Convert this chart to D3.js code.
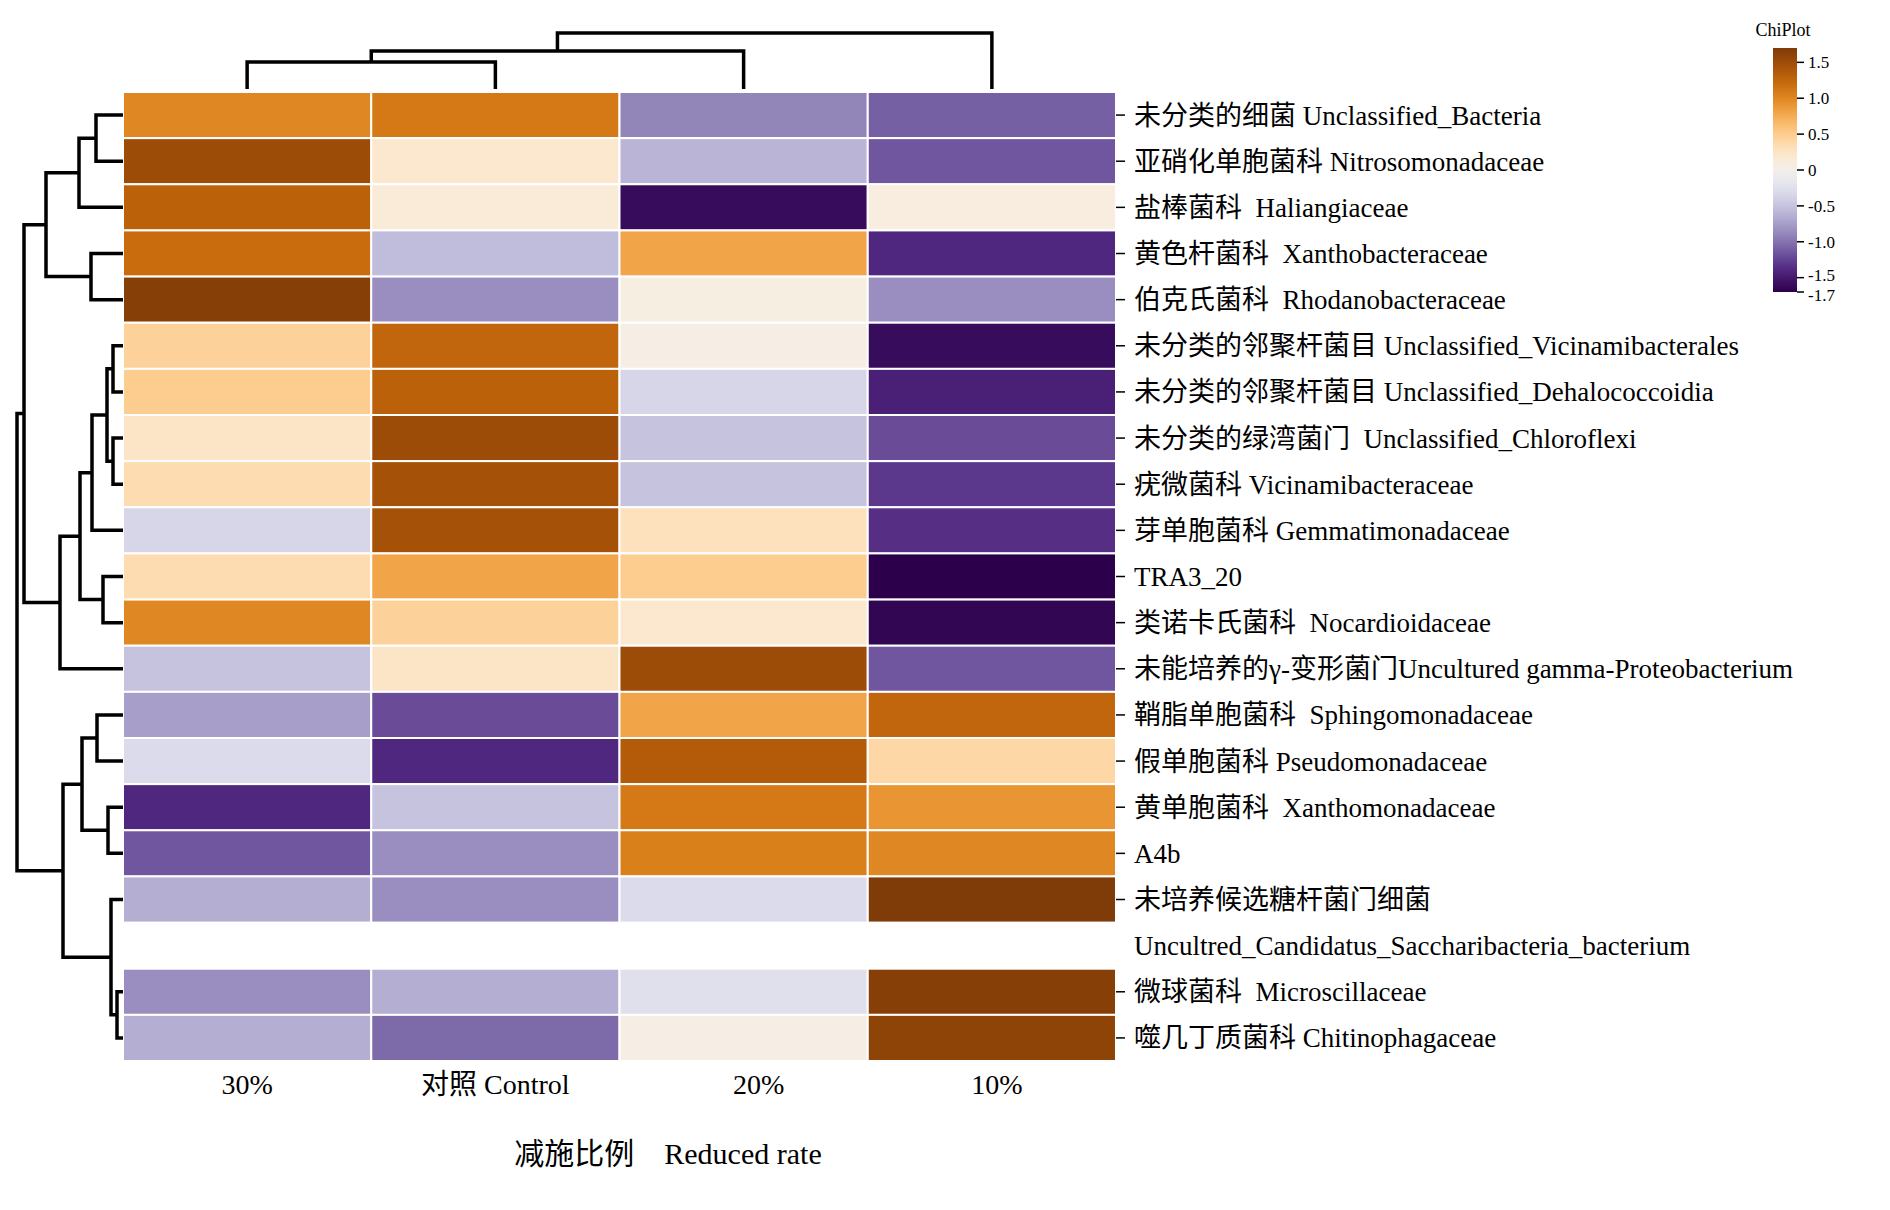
<!DOCTYPE html>
<html><head><meta charset="utf-8">
<script src="https://cdn.jsdelivr.net/npm/d3@7"></script>
<style>body{margin:0;background:#fff}</style></head>
<body><svg id="c" width="1890" height="1210"></svg>
<script>
const columns = ["30%", "对照 Control", "20%", "10%"];
const rows = [
 "未分类的细菌 Unclassified_Bacteria",
 "亚硝化单胞菌科 Nitrosomonadaceae",
 "盐棒菌科  Haliangiaceae",
 "黄色杆菌科  Xanthobacteraceae",
 "伯克氏菌科  Rhodanobacteraceae",
 "未分类的邻聚杆菌目 Unclassified_Vicinamibacterales",
 "未分类的邻聚杆菌目 Unclassified_Dehalococcoidia",
 "未分类的绿湾菌门  Unclassified_Chloroflexi",
 "疣微菌科 Vicinamibacteraceae",
 "芽单胞菌科 Gemmatimonadaceae",
 "TRA3_20",
 "类诺卡氏菌科  Nocardioidaceae",
 "未能培养的γ-变形菌门Uncultured gamma-Proteobacterium",
 "鞘脂单胞菌科  Sphingomonadaceae",
 "假单胞菌科 Pseudomonadaceae",
 "黄单胞菌科  Xanthomonadaceae",
 "A4b",
 "未培养候选糖杆菌门细菌|Uncultred_Candidatus_Saccharibacteria_bacterium",
 "微球菌科  Microscillaceae",
 "噬几丁质菌科 Chitinophagaceae"
];
const rowSlots = [0,1,2,3,4,5,6,7,8,9,10,11,12,13,14,15,16,17,19,20];
const values = [
 [1.0, 1.1, -0.9, -1.1],
 [1.5, 0.2, -0.6, -1.15],
 [1.3, 0.15, -1.6, 0.1],
 [1.2, -0.55, 0.8, -1.4],
 [1.65, -0.85, 0.08, -0.85],
 [0.45, 1.25, 0.05, -1.6],
 [0.5, 1.3, -0.35, -1.45],
 [0.25, 1.5, -0.5, -1.2],
 [0.35, 1.45, -0.5, -1.3],
 [-0.35, 1.45, 0.3, -1.35],
 [0.35, 0.8, 0.5, -1.7],
 [1.0, 0.45, 0.2, -1.65],
 [-0.5, 0.25, 1.5, -1.15],
 [-0.75, -1.2, 0.8, 1.25],
 [-0.3, -1.4, 1.35, 0.4],
 [-1.4, -0.5, 1.1, 0.9],
 [-1.15, -0.85, 1.05, 1.0],
 [-0.65, -0.85, -0.3, 1.7],
 [-0.85, -0.65, -0.25, 1.65],
 [-0.65, -1.05, 0.05, 1.6]
];
const legendTicks = [1.5, 1.0, 0.5, 0, -0.5, -1.0, -1.5, -1.7];
const treeA = [[[0,1,27],2,44],[3,4,32],77];
const treeB = [[[[[5,6,10],[7,8,10],16],9,31],[10,11,20],43],12,63];
const treeC = [[[13,14,26],[15,16,15],41],[17,[18,19,6],12],60];
const rowTree = [[treeA, treeB, 99], treeC, 106];
const colTree = [[[0,1,27],2,38],3,56];

const svg = d3.select("#c");
const x0 = 123, x1 = 1116, y0 = 92, y1 = 1061;
const x = d3.scaleBand().domain(d3.range(4)).range([x0, x1]);
const y = d3.scaleBand().domain(d3.range(21)).range([y0, y1]);
const color = v => d3.interpolatePuOr((v + 1.7) / 3.4);
const serif = "'Liberation Serif','Noto Sans CJK SC',serif";

values.forEach((r, i) => r.forEach((v, j) => {
  svg.append("rect").attr("x", x(j)).attr("y", y(rowSlots[i]))
    .attr("width", x.bandwidth()).attr("height", y.bandwidth())
    .attr("fill", color(v)).attr("stroke", "#fff").attr("stroke-width", 2);
}));

rows.forEach((lab, i) => {
  const cy = y(rowSlots[i]) + y.bandwidth() / 2;
  svg.append("line").attr("x1", x1).attr("x2", x1 + 9).attr("y1", cy).attr("y2", cy).attr("stroke", "#000").attr("stroke-width", 1.5);
  lab.split("|").forEach((p, k) => svg.append("text").attr("x", 1134).attr("y", cy + k * y.bandwidth())
    .attr("dy", "0.35em").attr("font-family", serif).attr("font-size", 27).attr("xml:space", "preserve").text(p));
});
columns.forEach((c, j) => svg.append("text").attr("x", x(j) + x.bandwidth() / 2 + (j==2?15:j==3?5:0)).attr("y", 1084)
  .attr("dy", "0.35em").attr("text-anchor", "middle").attr("font-family", serif).attr("font-size", 28).text(c));
svg.append("text").attr("x", 668).attr("y", 1153).attr("dy", "0.35em").attr("text-anchor", "middle")
  .attr("font-family", serif).attr("font-size", 30).attr("xml:space", "preserve").text("减施比例    Reduced rate");

const rowPos = i => y(rowSlots[i]) + y.bandwidth() / 2;
const rh = d3.scaleLinear().domain([0, 106]).range([x0, 17]);
function drawRow(node) {
  if (typeof node === "number") return { p: rowPos(node), h: 0 };
  const a = drawRow(node[0]), b = drawRow(node[1]), h = node[2];
  svg.append("path").attr("d", `M${rh(a.h)},${a.p}H${rh(h)}V${b.p}H${rh(b.h)}`)
    .attr("fill", "none").attr("stroke", "#000").attr("stroke-width", 3.5);
  return { p: (a.p + b.p) / 2, h };
}
drawRow(rowTree);
const ch = d3.scaleLinear().domain([0, 56]).range([89, 33]);
function drawCol(node) {
  if (typeof node === "number") return { p: x(node) + x.bandwidth() / 2, h: 0 };
  const a = drawCol(node[0]), b = drawCol(node[1]), h = node[2];
  svg.append("path").attr("d", `M${a.p},${ch(a.h)}V${ch(h)}H${b.p}V${ch(b.h)}`)
    .attr("fill", "none").attr("stroke", "#000").attr("stroke-width", 3.5);
  return { p: (a.p + b.p) / 2, h };
}
drawCol(colTree);

const ly = d3.scaleLinear().domain([1.7, -1.7]).range([48, 292]);
const grad = svg.append("defs").append("linearGradient").attr("id", "g").attr("x1", 0).attr("x2", 0).attr("y1", 0).attr("y2", 1);
d3.range(0, 1.0001, 0.05).forEach(t => grad.append("stop").attr("offset", t).attr("stop-color", color(1.7 - t * 3.4)));
svg.append("rect").attr("x", 1773).attr("y", 48).attr("width", 24).attr("height", 244).attr("fill", "url(#g)");
svg.append("text").attr("x", 1783).attr("y", 30).attr("dy", "0.35em").attr("text-anchor", "middle")
  .attr("font-family", serif).attr("font-size", 18).text("ChiPlot");
legendTicks.forEach(t => {
  svg.append("line").attr("x1", 1797).attr("x2", 1804).attr("y1", ly(t)).attr("y2", ly(t)).attr("stroke", "#000").attr("stroke-width", 1.5);
  svg.append("text").attr("x", 1808).attr("y", ly(t) + (t === -1.5 ? -3 : t === -1.7 ? 3 : 0)).attr("dy", "0.35em")
    .attr("font-family", serif).attr("font-size", 17).text(t === 0 ? "0" : t.toFixed(1));
});
</script></body></html>
